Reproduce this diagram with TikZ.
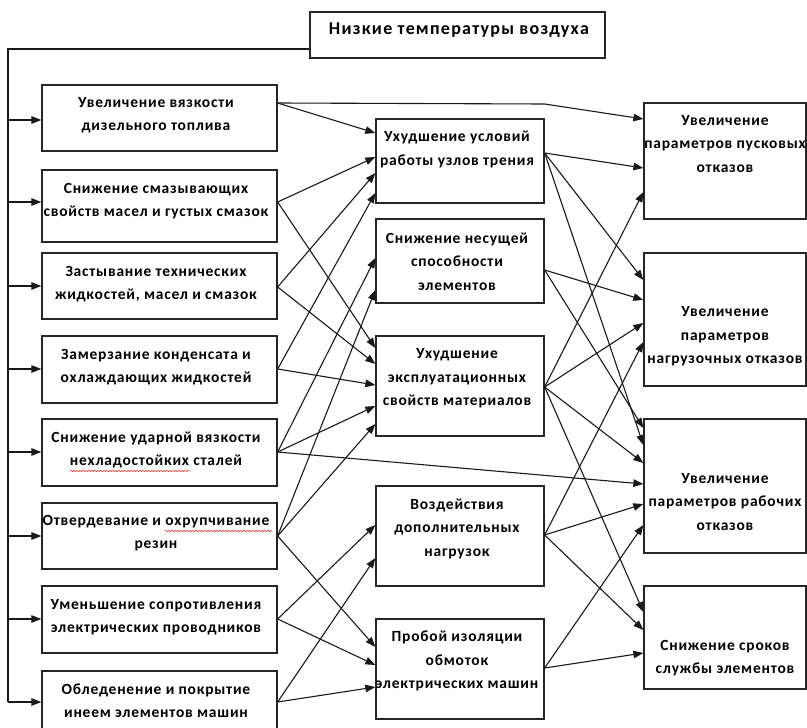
\documentclass[tikz,border=0pt]{standalone}
\usepackage{fontspec}
\setmainfont{Carlito}[LetterSpace=5]
\newfontfamily\ttlfont{Carlito}[LetterSpace=7]
\usetikzlibrary{arrows.meta,decorations.pathmorphing}
\begin{document}
\begin{tikzpicture}[x=1pt,y=-1pt,
  box/.style={draw=black!85, line width=1.3pt, inner sep=0pt},
  lbl/.style={font=\bfseries\fontsize{15.5}{23.5}\selectfont, align=center, inner sep=0pt},
  ttl/.style={font=\ttlfont\bfseries\fontsize{18}{20}\selectfont, inner sep=0pt},
  arr/.style={-{Triangle[length=10pt,width=7.5pt]}, line width=1.1pt, draw=black!90},
  ln/.style={line width=1.1pt, draw=black!90},
  squig/.style={draw=red!80, line width=0.6pt, decorate, decoration={snake, amplitude=0.7pt, segment length=3pt}}]
\useasboundingbox (0,0) rectangle (807,728);
\clip (0,0) rectangle (807,728);
% boxes
\node[box, minimum width=295, minimum height=46] (T) at (457.5,35) {};
\node[box, minimum width=235, minimum height=66] (L1) at (159.5,118) {};
\node[box, minimum width=235, minimum height=72] (L2) at (159.5,206) {};
\node[box, minimum width=235, minimum height=66] (L3) at (159.5,286) {};
\node[box, minimum width=235, minimum height=67] (L4) at (159.5,369.5) {};
\node[box, minimum width=235, minimum height=67] (L5) at (159.5,452.5) {};
\node[box, minimum width=235, minimum height=66] (L6) at (159.5,536) {};
\node[box, minimum width=235, minimum height=67] (L7) at (159.5,619.5) {};
\node[box, minimum width=235, minimum height=69] (L8) at (159.5,705.5) {};
\node[box, minimum width=168, minimum height=84] (M1) at (460,161) {};
\node[box, minimum width=168, minimum height=84] (M2) at (460,261) {};
\node[box, minimum width=168, minimum height=100] (M3) at (460,386) {};
\node[box, minimum width=168, minimum height=100] (M4) at (460,536) {};
\node[box, minimum width=168, minimum height=100] (M5) at (460,669) {};
\node[box, minimum width=162, minimum height=116] (R1) at (725,161) {};
\node[box, minimum width=162, minimum height=133] (R2) at (725,319.5) {};
\node[box, minimum width=162, minimum height=134] (R3) at (725,486) {};
\node[box, minimum width=162, minimum height=103] (R4) at (725,637.5) {};
% texts
\node[ttl] (Tt) at (459,30) {Низкие температуры воздуха};
\node[lbl] (L1t) at (156,115) {Увеличение вязкости\\дизельного топлива};
\node[lbl] (L2t) at (156,201) {Снижение смазывающих\\свойств масел и густых смазок};
\node[lbl] (L3t) at (156,284) {Застывание технических\\жидкостей, масел и смазок};
\node[lbl] (L4t) at (156,367) {Замерзание конденсата и\\охлаждающих жидкостей};
\node[lbl] (L5t) at (156,450) {Снижение ударной вязкости\\нехладостойких сталей};
\node[lbl] (L6t) at (156,533) {Отвердевание и охрупчивание\\резин};
\node[lbl] (L7t) at (156,617) {Уменьшение сопротивления\\электрических проводников};
\node[lbl] (L8t) at (156,700.5) {Обледенение и покрытие\\инеем элементов машин};
\node[lbl] (M1t) at (457,149.5) {Ухудшение условий\\работы узлов трения};
\node[lbl] (M2t) at (457,261.5) {Снижение несущей\\способности\\элементов};
\node[lbl] (M3t) at (457,378.5) {Ухудшение\\эксплуатационных\\свойств материалов};
\node[lbl] (M4t) at (457,528.5) {Воздействия\\дополнительных\\нагрузок};
\node[lbl] (M5t) at (457,661) {Пробой изоляции\\обмоток\\электрических машин};
\node[lbl] (R1t) at (725,144) {Увеличение\\параметров пусковых\\отказов};
\node[lbl] (R2t) at (725,336.5) {Увеличение\\параметров\\нагрузочных отказов};
\node[lbl] (R3t) at (725,502) {Увеличение\\параметров рабочих\\отказов};
\node[lbl] (R4t) at (725,658) {Снижение сроков\\службы элементов};
% spell-check squiggles
\coordinate (s1a) at (70,471); \coordinate (s1b) at (190,471);
\coordinate (s2a) at (165,531); \coordinate (s2b) at (272,531);
\draw[squig] (s1a) -- (s1b);
\draw[squig] (s2a) -- (s2b);
% feed line
\coordinate (c0) at (8,49);
\coordinate (c1) at (8,702);
\draw[ln] (T.west |- c0) -- (c0) -- (c1);
\draw[arr] (c0 |- 0,120) -- (L1.west |- 0,120);
\draw[arr] (c0 |- 0,202) -- (L2.west |- 0,202);
\draw[arr] (c0 |- 0,286) -- (L3.west |- 0,286);
\draw[arr] (c0 |- 0,369) -- (L4.west |- 0,369);
\draw[arr] (c0 |- 0,452) -- (L5.west |- 0,452);
\draw[arr] (c0 |- 0,536) -- (L6.west |- 0,536);
\draw[arr] (c0 |- 0,619) -- (L7.west |- 0,619);
\draw[arr] (c1) -- (L8.west |- c1);
% left -> middle
\draw[arr] (L1.east |- 0,103) -- (M1.west |- 0,133);
\draw[arr] (L1.east |- 0,103) -- (M1.east |- 0,104) -- (R1.west |- 0,119);
\draw[arr] (L2.east |- 0,202) -- (M1.west |- 0,157);
\draw[arr] (L2.east |- 0,202) -- (M3.west |- 0,348);
\draw[arr] (L3.east |- 0,287) -- (M1.west |- 0,173);
\draw[arr] (L3.east |- 0,287) -- (M3.west |- 0,364);
\draw[arr] (L4.east |- 0,369) -- (M1.west |- 0,193);
\draw[arr] (L4.east |- 0,369) -- (M3.west |- 0,385);
\draw[arr] (L5.east |- 0,452) -- (M2.west |- 0,258);
\draw[arr] (L5.east |- 0,452) -- (M3.west |- 0,406);
\draw[arr] (L5.east |- 0,452) -- (R3.west |- 0,484);
\draw[arr] (L6.east |- 0,536) -- (M2.west |- 0,290);
\draw[arr] (L6.east |- 0,536) -- (M3.west |- 0,424);
\draw[arr] (L6.east |- 0,536) -- (M5.west |- 0,647);
\draw[arr] (L7.east |- 0,619) -- (M4.west |- 0,525);
\draw[arr] (L7.east |- 0,619) -- (M5.west |- 0,665);
\draw[arr] (L8.east |- 0,702) -- (M4.west |- 0,558);
\draw[arr] (L8.east |- 0,702) -- (M5.west |- 0,687);
% middle -> right
\draw[arr] (M1.east |- 0,153) -- (R1.west |- 0,168);
\draw[arr] (M1.east |- 0,153) -- (R2.west |- 0,280);
\draw[arr] (M1.east |- 0,153) -- (R3.west |- 0,445);
\draw[arr] (M2.east |- 0,270) -- (R2.west |- 0,300);
\draw[arr] (M2.east |- 0,270) -- (R3.west |- 0,428);
\draw[arr] (M3.east |- 0,387) -- (R1.west |- 0,192);
\draw[arr] (M3.east |- 0,387) -- (R2.west |- 0,323);
\draw[arr] (M3.east |- 0,387) -- (R3.west |- 0,463);
\draw[arr] (M3.east |- 0,387) -- (R4.west |- 0,612);
\draw[arr] (M4.east |- 0,535) -- (R2.west |- 0,342);
\draw[arr] (M4.east |- 0,535) -- (R3.west |- 0,504);
\draw[arr] (M4.east |- 0,535) -- (R4.west |- 0,630);
\draw[arr] (M5.east |- 0,668) -- (R3.west |- 0,525);
\draw[arr] (M5.east |- 0,668) -- (R4.west |- 0,653);
\end{tikzpicture}
\end{document}
